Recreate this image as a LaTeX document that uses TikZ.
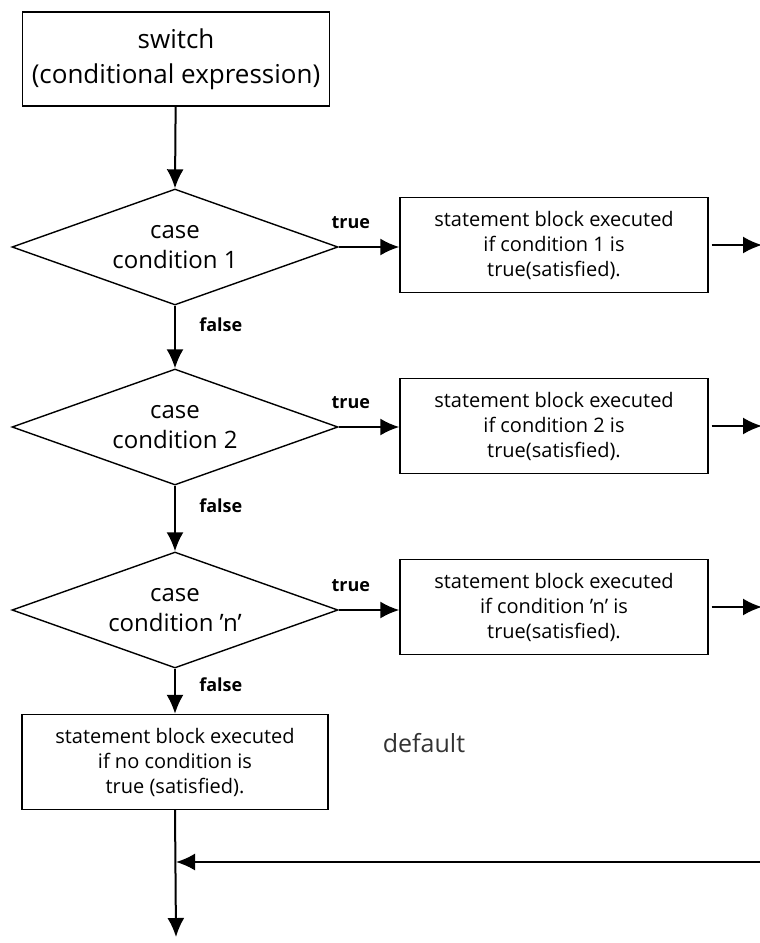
\documentclass[tikz,border=0pt]{standalone}
\usepackage{fontspec}
\setmainfont{Open Sans}
\usetikzlibrary{shapes.geometric,arrows.meta}
\tikzset{
  blk/.style={draw, line width=1.4pt, minimum width=308pt, minimum height=95pt,
    inner sep=2pt, align=center, font=\fontsize{20}{25}\selectfont},
  cond/.style={draw, diamond, line width=1.4pt, minimum width=326pt,
    minimum height=116pt, inner sep=0pt, shape aspect=2.8, align=center,
    font=\fontsize{24}{30}\selectfont},
  lbl/.style={font=\fontsize{18}{20}\selectfont\bfseries},
  flow/.style={-{Latex[length=19pt,width=17pt]}, line width=2pt}
}
\begin{document}
\begin{tikzpicture}[x=1pt,y=-1pt]
  \useasboundingbox (0,0) rectangle (760,943);
  \draw
    (176,59) node[blk, minimum width=307pt, minimum height=94pt,
      font=\fontsize{26}{35}\selectfont] (sw){switch\\(conditional expression)}
    (175,247) node[cond] (c1){case\\condition 1}
    (175,427) node[cond] (c2){case\\condition 2}
    (175,610) node[cond] (c3){case\\condition 'n'}
    (554,245) node[blk] (b1){statement block executed\\if condition 1 is\\true(satisfied).}
    (554,426) node[blk] (b2){statement block executed\\if condition 2 is\\true(satisfied).}
    (554,607) node[blk] (b3){statement block executed\\if condition 'n' is\\true(satisfied).}
    (175,762) node[blk, minimum width=306pt] (dflt){statement block executed\\if no condition is\\true (satisfied).}
    (424,743) node[font=\fontsize{25}{28}\selectfont, text=black!80] (dl){default};
  \coordinate (o1) at (762,245);
  \coordinate (o2) at (762,426);
  \coordinate (o3) at (762,607);
  \coordinate (rin) at (762,862);
  \coordinate (join) at (176,862);
  \coordinate (fin) at (176,937);
  \begin{scope}[flow]
    \draw (sw) -- (c1.north);
    \draw (c1.south) -- node[lbl, right, pos=0.3, xshift=20pt]{false} (c2.north);
    \draw (c2.south) -- node[lbl, right, pos=0.3, xshift=20pt]{false} (c3.north);
    \draw (c3.south) -- node[lbl, right, pos=0.35, xshift=20pt]{false} (dflt.north);
    \draw (c1.east) -- node[lbl, above, pos=0.2, yshift=14pt]{true} (c1.east -| b1.west);
    \draw (c2.east) -- node[lbl, above, pos=0.2, yshift=14pt]{true} (c2.east -| b2.west);
    \draw (c3.east) -- node[lbl, above, pos=0.2, yshift=14pt]{true} (c3.east -| b3.west);
    \draw ([xshift=3pt]b1.east) -- (o1);
    \draw ([xshift=3pt]b2.east) -- (o2);
    \draw ([xshift=3pt]b3.east) -- (o3);
    \draw (rin) -- (join);
    \draw (dflt.south) -- (fin);
  \end{scope}
\end{tikzpicture}
\end{document}
